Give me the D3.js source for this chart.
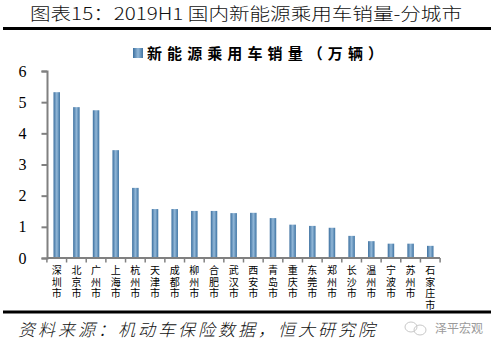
<!DOCTYPE html>
<html><head><meta charset="utf-8">
<script src="https://cdn.jsdelivr.net/npm/d3@7"></script>
<style>body{margin:0;background:#fff;}svg{display:block;}</style>
</head><body>
<script>
const title = "图表15：2019H1 国内新能源乘用车销量-分城市";
const seriesName = "新能源乘用车销量（万辆）";
const source = "资料来源：机动车保险数据，恒大研究院";
const watermark = "泽平宏观";
const categories = ["深圳市","北京市","广州市","上海市","杭州市","天津市","成都市","柳州市","合肥市","武汉市","西安市","青岛市","重庆市","东莞市","郑州市","长沙市","温州市","宁波市","苏州市","石家庄市"];
const values = [5.32,4.84,4.74,3.46,2.25,1.57,1.57,1.51,1.51,1.44,1.45,1.28,1.07,1.03,0.97,0.71,0.54,0.46,0.46,0.39];
const yTicks = [0,1,2,3,4,5,6];

const W = 494, H = 348;
const svg = d3.select("body").append("svg").attr("width", W).attr("height", H);
const defs = svg.append("defs");
const g = defs.append("linearGradient").attr("id","barg").attr("x1","0").attr("x2","1").attr("y1","0").attr("y2","0");
g.append("stop").attr("offset","0").attr("stop-color","#3b6f9f");
g.append("stop").attr("offset","0.5").attr("stop-color","#93b8d8");
g.append("stop").attr("offset","1").attr("stop-color","#3f74a3");

// title
svg.append("text").attr("x",30).attr("y",20).attr("textLength",432).attr("lengthAdjust","spacingAndGlyphs")
  .style("font-family","'Noto Sans CJK SC'").style("font-size","17px").style("font-weight","300").attr("fill","#111").text(title);
svg.append("line").attr("x1",3).attr("x2",491).attr("y1",28.5).attr("y2",28.5).attr("stroke","#000").attr("stroke-width",3);

// legend
svg.append("rect").attr("x",133).attr("y",48).attr("width",10).attr("height",10).attr("fill","url(#barg)");
svg.append("text").attr("x",147).attr("y",59).attr("textLength",236).attr("lengthAdjust","spacing")
  .style("font-family","'Noto Sans CJK SC'").style("font-size","15px").style("font-weight","bold").attr("fill","#000").text(seriesName);

const x = d3.scaleBand().domain(categories).range([47,440]).paddingInner(0.67).paddingOuter(0.33);
const y = d3.scaleLinear().domain([0,6]).range([258,71]);

// bars
svg.append("g").selectAll("rect").data(values).join("rect")
  .attr("x",(d,i)=>x(categories[i])).attr("width",x.bandwidth())
  .attr("y",d=>y(d)).attr("height",d=>y(0)-y(d)).attr("fill","url(#barg)");

// y axis
const ya = svg.append("g").attr("transform","translate(47,0)")
  .call(d3.axisLeft(y).tickValues(yTicks).tickSize(5.5).tickPadding(15).tickFormat(d3.format("d")));
ya.select(".domain").attr("stroke","#808080").attr("stroke-width",2);
ya.selectAll(".tick line").attr("stroke","#808080").attr("stroke-width",2);
ya.selectAll(".tick text").style("font-family","'Liberation Serif'").style("font-size","16px").attr("fill","#000");

// x axis
svg.append("line").attr("x1",47).attr("x2",440).attr("y1",y(0)).attr("y2",y(0)).attr("stroke","#808080").attr("stroke-width",2);
const step = x.step();
const bounds = categories.map(c => x(c) + x.bandwidth()/2 - step/2).concat([x(categories[categories.length-1]) + x.bandwidth()/2 + step/2]);
svg.append("g").selectAll("line").data(bounds).join("line")
  .attr("x1",d=>d).attr("x2",d=>d).attr("y1",y(0)).attr("y2",y(0)+4.5).attr("stroke","#808080").attr("stroke-width",1.5);

svg.append("g").selectAll("text").data(categories).join("text")
  .attr("x",d=>x(d)+x.bandwidth()/2).attr("y",265)
  .attr("writing-mode","vertical-rl")
  .style("font-family","'Noto Sans CJK SC'").style("font-size","10px").style("letter-spacing","1.7px")
  .attr("fill","#000").text(d=>d);

// bottom line
svg.append("line").attr("x1",3).attr("x2",491).attr("y1",312).attr("y2",312).attr("stroke","#000").attr("stroke-width",3);

// source
svg.append("text").attr("x",18).attr("y",336).attr("textLength",357).attr("lengthAdjust","spacing")
  .style("font-family","'Noto Sans CJK SC'").style("font-size","17px").style("font-style","italic").style("font-weight","300")
  .attr("fill","#111").text(source);

// watermark
const wm = svg.append("g").attr("fill","none").attr("stroke","#c8c8c8").attr("stroke-width",1);
wm.append("ellipse").attr("cx",411).attr("cy",327).attr("rx",6).attr("ry",5);
wm.append("ellipse").attr("cx",420).attr("cy",330).attr("rx",6).attr("ry",5);
svg.append("text").attr("x",435).attr("y",333).style("font-family","'Noto Sans CJK SC'").style("font-size","12px")
  .attr("fill","#9a9a9a").text(watermark);
</script>
</body></html>
